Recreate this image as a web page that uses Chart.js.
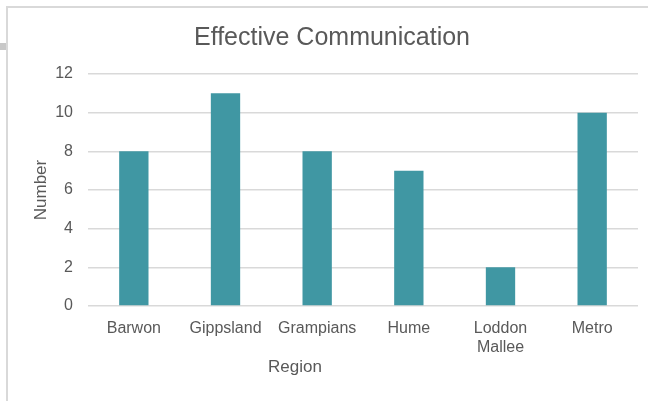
<!DOCTYPE html>
<html>
<head>
<meta charset="utf-8">
<title>Effective Communication</title>
<script src="https://cdn.jsdelivr.net/npm/chart.js@4/dist/chart.umd.min.js"></script>
<style>
  html, body { margin: 0; padding: 0; background: #fff; }
  canvas { display: block; }
</style>
</head>
<body>
<canvas id="regions" width="648" height="401"></canvas>
<script>
// Effective Communication by region

var regions = ['Barwon', 'Gippsland', 'Grampians', 'Hume', ['Loddon', 'Mallee'], 'Metro'];
var counts = [8, 11, 8, 7, 2, 10];
var yTicks = [0, 2, 4, 6, 8, 10, 12];

var textColor = '#595959';
var gridColor = '#d9d9d9';
var fontFamily = "'Liberation Sans', Arial, sans-serif";

// frame lines round the chart, plus the title and x axis title
var decorations = {
    id: 'decorations',
    beforeDraw: function (chart) {
        var c = chart.ctx;
        c.save();
        c.strokeStyle = '#d9d9d9';
        c.lineWidth = 2;
        c.beginPath();
        c.moveTo(7, 401);
        c.lineTo(7, 7);
        c.lineTo(648, 7);
        c.stroke();
        c.fillStyle = '#c8c8c8';
        c.fillRect(0, 43, 6, 7);
        c.restore();
    },
    afterDraw: function (chart) {
        var c = chart.ctx;
        c.save();
        c.fillStyle = textColor;
        c.textAlign = 'center';
        c.textBaseline = 'middle';
        c.font = '25px ' + fontFamily;
        c.fillText('Effective Communication', 332, 38);
        c.font = '17px ' + fontFamily;
        c.fillText('Region', 295, 367);
        c.restore();
    }
};

var ctx = document.getElementById('regions').getContext('2d');
var chart = new Chart(ctx, {
    type: 'bar',
    data: {
        labels: regions,
        datasets: [{
            label: 'Number',
            data: counts,
            backgroundColor: '#4097a3',
            borderWidth: 0,
            barPercentage: 1,
            categoryPercentage: 0.32
        }]
    },
    options: {
        responsive: false,
        animation: false,
        layout: {
            padding: { left: 8, top: 74, right: 10, bottom: 8 }
        },
        plugins: {
            legend: { display: false },
            tooltip: { enabled: false },
            title: { display: false }
        },
        scales: {
            x: {
                grid: { display: false },
                border: { display: false },
                ticks: {
                    color: textColor,
                    font: { family: fontFamily, size: 16 },
                    padding: 5,
                    maxRotation: 0,
                    autoSkip: false
                },
                afterFit: function (scale) { scale.height = 87; }
            },
            y: {
                min: 0,
                max: 12,
                afterBuildTicks: function (scale) {
                    scale.ticks = yTicks.map(function (v) { return { value: v }; });
                },
                grid: {
                    color: gridColor,
                    lineWidth: 1.5,
                    drawTicks: false
                },
                border: { display: false },
                ticks: {
                    color: textColor,
                    font: { family: fontFamily, size: 16 },
                    padding: 15
                },
                title: {
                    display: true,
                    text: 'Number',
                    color: textColor,
                    font: { family: fontFamily, size: 17 },
                    padding: { top: 23, bottom: 0 }
                },
                afterFit: function (scale) { scale.width = 80; }
            }
        }
    },
    plugins: [decorations]
});
</script>
</body>
</html>
